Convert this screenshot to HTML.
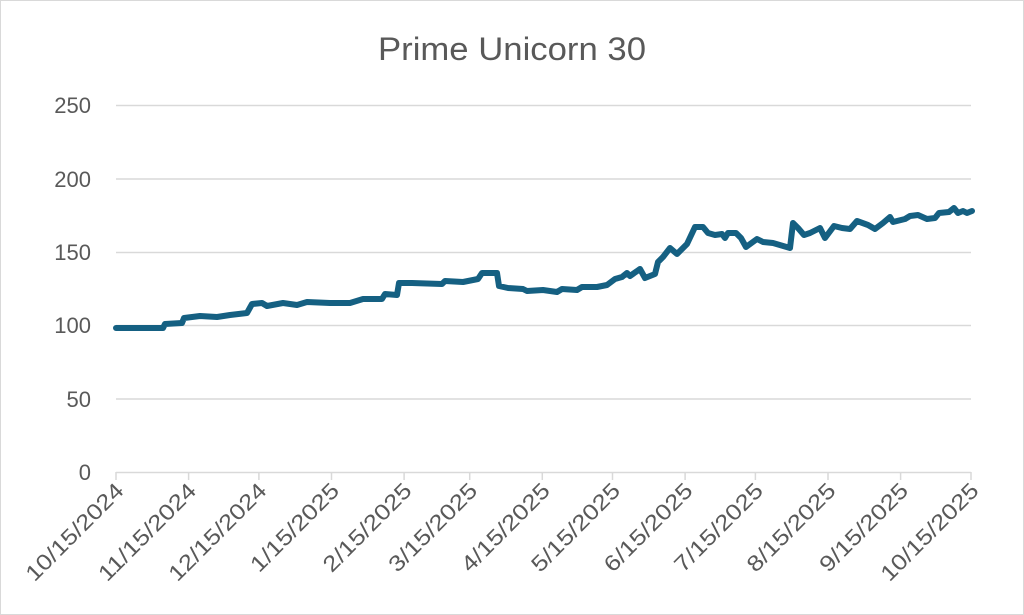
<!DOCTYPE html>
<html><head><meta charset="utf-8"><style>
html,body{margin:0;padding:0;background:#fff;}
svg{display:block;font-family:"Liberation Sans",sans-serif;}
</style></head><body>
<svg width="1024" height="615" viewBox="0 0 1024 615" xmlns="http://www.w3.org/2000/svg">
<rect x="0.5" y="0.5" width="1023" height="614" fill="#fff" stroke="#d9d9d9"/>
<text x="512" y="60" text-anchor="middle" font-size="32" fill="#595959" textLength="268" lengthAdjust="spacingAndGlyphs">Prime Unicorn 30</text>
<g stroke="#d9d9d9" stroke-width="1.5">
<line x1="116" y1="105.5" x2="971" y2="105.5"/>
<line x1="116" y1="179" x2="971" y2="179"/>
<line x1="116" y1="252.5" x2="971" y2="252.5"/>
<line x1="116" y1="325.5" x2="971" y2="325.5"/>
<line x1="116" y1="399" x2="971" y2="399"/>
<line x1="116" y1="472.5" x2="971" y2="472.5"/>
</g>
<g stroke="#d9d9d9" stroke-width="1.5">
<line x1="116" y1="472" x2="116" y2="480"/><line x1="188.6" y1="472" x2="188.6" y2="480"/><line x1="258.9" y1="472" x2="258.9" y2="480"/><line x1="331.5" y1="472" x2="331.5" y2="480"/><line x1="404.1" y1="472" x2="404.1" y2="480"/><line x1="469.7" y1="472" x2="469.7" y2="480"/><line x1="542.3" y1="472" x2="542.3" y2="480"/><line x1="612.5" y1="472" x2="612.5" y2="480"/><line x1="685.1" y1="472" x2="685.1" y2="480"/><line x1="755.4" y1="472" x2="755.4" y2="480"/><line x1="828" y1="472" x2="828" y2="480"/><line x1="900.6" y1="472" x2="900.6" y2="480"/><line x1="971" y1="472" x2="971" y2="480"/>
</g>
<g font-size="22" fill="#595959" text-anchor="end">
<text x="91" y="113">250</text><text x="91" y="187">200</text><text x="91" y="260">150</text><text x="91" y="333">100</text><text x="91" y="407">50</text><text x="91" y="480">0</text>
</g>
<g font-size="22" fill="#595959" text-anchor="end">
<text transform="translate(125,492) rotate(-45)" textLength="128" lengthAdjust="spacingAndGlyphs">10/15/2024</text>
<text transform="translate(197.6,492) rotate(-45)" textLength="128" lengthAdjust="spacingAndGlyphs">11/15/2024</text>
<text transform="translate(267.9,492) rotate(-45)" textLength="128" lengthAdjust="spacingAndGlyphs">12/15/2024</text>
<text transform="translate(340.5,492) rotate(-45)" textLength="115" lengthAdjust="spacingAndGlyphs">1/15/2025</text>
<text transform="translate(413.1,492) rotate(-45)" textLength="115" lengthAdjust="spacingAndGlyphs">2/15/2025</text>
<text transform="translate(478.7,492) rotate(-45)" textLength="115" lengthAdjust="spacingAndGlyphs">3/15/2025</text>
<text transform="translate(551.3,492) rotate(-45)" textLength="115" lengthAdjust="spacingAndGlyphs">4/15/2025</text>
<text transform="translate(621.5,492) rotate(-45)" textLength="115" lengthAdjust="spacingAndGlyphs">5/15/2025</text>
<text transform="translate(694.1,492) rotate(-45)" textLength="115" lengthAdjust="spacingAndGlyphs">6/15/2025</text>
<text transform="translate(764.4,492) rotate(-45)" textLength="115" lengthAdjust="spacingAndGlyphs">7/15/2025</text>
<text transform="translate(837,492) rotate(-45)" textLength="115" lengthAdjust="spacingAndGlyphs">8/15/2025</text>
<text transform="translate(909.6,492) rotate(-45)" textLength="115" lengthAdjust="spacingAndGlyphs">9/15/2025</text>
<text transform="translate(980,492) rotate(-45)" textLength="128" lengthAdjust="spacingAndGlyphs">10/15/2025</text>
</g>
<polyline fill="none" stroke="#156082" stroke-width="6" stroke-linejoin="round" stroke-linecap="round" points="116,328 153,328 163,328 165,324 182,323 184,318 200,316 217,317 230,315 247,313 252,304 262,303 267,306 283,303 297,305 307,302 330,303 350,303 363,299 382,299 385,294 397,295 399,283 412,283 442,284 445,281 463,282 478,279 482,273 497,273 499,286 508,288 523,289 527,291 543,290 557,292 562,289 577,290 582,287 597,287 607,285 615,279 622,277 627,273 630,276 640,269 645,278 655,274 658,262 663,257 670,248 677,254 687,244 695,227 703,227 708,233 715,235 722,234 725,238 728,233 736,233 741,238 746,247 757,239 763,242 773,243 790,248 793,223 798,228 804,235 810,233 820,228 825,238 834,226 842,228 850,229 857,221 868,225 875,229 883,223 890,217 893,222 905,219 910,216 918,215 927,219 935,218 939,213 949,212 954,208 958,213 963,211 967,213 972,211"/>
</svg>
</body></html>
